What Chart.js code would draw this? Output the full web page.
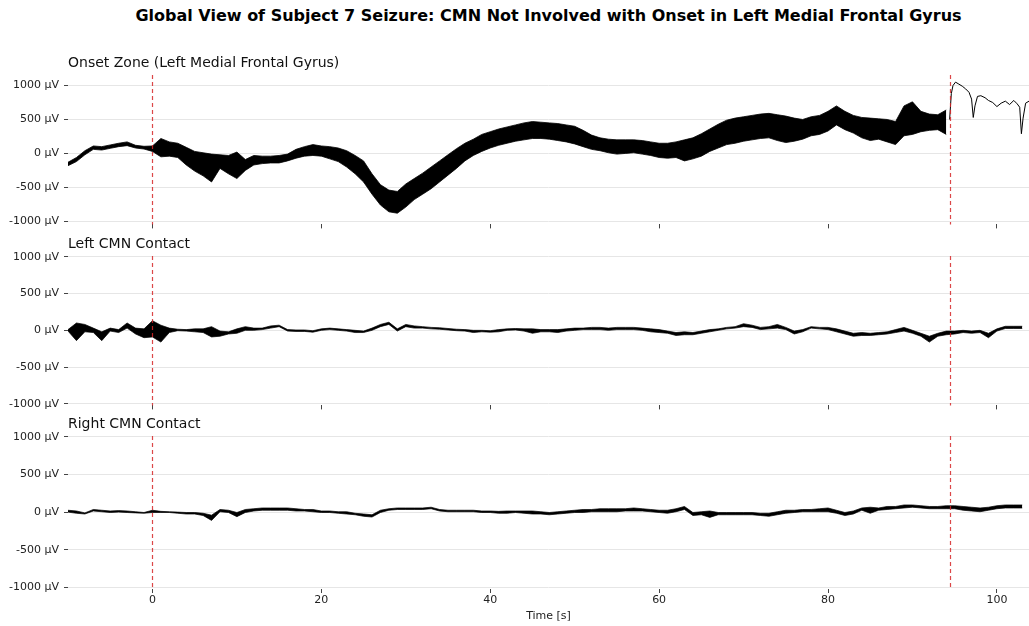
<!DOCTYPE html>
<html>
<head>
<meta charset="utf-8">
<script src="https://cdn.jsdelivr.net/npm/chart.js@4/dist/chart.umd.min.js"></script>
<style>
  body { margin:0; background:#fff; width:1029px; height:626px; position:relative; overflow:hidden; font-family:'DejaVu Sans', sans-serif; }
  #title { position:absolute; left:68px; width:961px; top:6px; text-align:center; font-weight:bold; font-size:16px; color:#000; }
  canvas { position:absolute; left:0; }
</style>
</head>
<body>
<div id="title">Global View of Subject 7 Seizure: CMN Not Involved with Onset in Left Medial Frontal Gyrus</div>
<canvas id="panel0" width="1029" height="186" style="top:50px"></canvas>
<canvas id="panel1" width="1029" height="185" style="top:232px"></canvas>
<canvas id="panel2" width="1029" height="214" style="top:412px"></canvas>
<script>
/* EEG overview — three stacked channels, envelope of the signal per second */

const panelTitles = ['Onset Zone (Left Medial Frontal Gyrus)', 'Left CMN Contact', 'Right CMN Contact'];
const xTickValues = [0, 20, 40, 60, 80, 100];
const yTickValues = [-1000, -500, 0, 500, 1000];
const onsetMarks = [0, 94.4];   // seizure onset / offset markers [s]

// sample times [s]
const secs = [-10,-9,-8,-7,-6,-5,-4,-3,-2,-1,0,1,2,3,4,5,6,7,8,9,10,11,12,13,14,15,16,17,18,19,
  20,21,22,23,24,25,26,27,28,29,30,31,32,33,34,35,36,37,38,39,40,41,42,43,44,45,46,47,48,49,
  50,51,52,53,54,55,56,57,58,59,60,61,62,63,64,65,66,67,68,69,70,71,72,73,74,75,76,77,78,79,
  80,81,82,83,84,85,86,87,88,89,90,91,92,93,94,95,96,97,98,99,100,101,102,103];

// Onset zone, -10..94 s (upper / lower edge of the trace, µV)
const onsetHi = [-130,-60,40,110,100,125,150,170,120,105,110,220,170,150,90,30,10,-10,-20,-30,
  20,-90,-30,-40,-40,-30,-10,60,100,130,110,100,80,40,-30,-110,-300,-460,-540,-560,
  -450,-370,-290,-200,-110,-20,70,150,210,280,320,360,390,420,450,470,460,450,440,420,
  400,340,270,230,210,200,200,200,190,170,150,150,170,200,230,290,360,430,490,520,
  540,560,580,590,570,550,520,500,540,560,620,700,620,560,530,520,510,500,470,700,
  760,620,580,570,640];
const onsetLo = [-180,-120,-20,60,50,75,100,115,80,65,30,-50,-40,-60,-170,-260,-330,-420,-220,-300,
  -370,-250,-170,-150,-140,-140,-110,-70,-40,-30,-40,-80,-120,-200,-300,-420,-600,-760,-860,-880,
  -790,-680,-600,-520,-420,-320,-220,-110,-30,30,80,120,150,180,200,220,220,210,190,170,
  140,100,60,40,10,-10,0,10,-10,-30,-60,-70,-60,-110,-80,-40,30,80,130,150,
  180,200,220,230,190,160,180,210,260,280,330,420,350,300,230,190,210,170,130,260,
  280,320,340,350,280];
// Onset zone after the marker (single thin trace)
const postSecs = [94.4,94.6,94.8,95.1,95.5,95.9,96.3,96.7,97.0,97.2,97.4,97.7,98.1,98.6,99.0,
  99.5,100.0,100.5,101.0,101.5,102.0,102.4,102.7,102.9,103.1,103.4,103.8];
const postUv = [500,880,1000,1050,1020,990,950,900,800,530,700,840,850,820,780,
  750,690,740,770,720,780,730,680,290,520,740,770];

// Left CMN contact, -10..103 s
const leftHi = [10,100,80,30,-20,30,10,100,30,20,130,70,30,15,10,20,20,50,-10,-20,
  20,50,30,30,60,70,10,5,5,-5,20,30,20,10,0,-10,30,80,110,20,
  80,60,50,40,35,25,15,10,0,0,-5,10,20,25,20,20,10,10,10,20,
  30,30,40,40,30,40,40,40,30,20,10,-10,-30,-20,-30,-10,10,20,40,50,
  90,70,40,50,80,40,-10,10,50,40,40,20,-10,-40,-30,-40,-30,-20,10,40,
  0,-40,-80,-40,-10,-10,0,-10,0,-40,20,55,55,55];
const leftLo = [-10,-140,-20,-30,-140,-10,-30,30,-50,-100,-90,-160,-30,-5,-10,-20,-30,-90,-80,-50,
  -40,0,0,10,30,50,-10,-15,-15,-25,0,10,0,-10,-30,-30,0,50,80,-10,
  50,30,30,20,15,5,-5,-10,-30,-20,-25,-20,0,5,-10,-40,-20,-20,-30,-10,
  0,10,10,10,0,10,10,10,0,-20,-30,-40,-70,-60,-60,-40,-20,0,20,30,
  50,40,10,20,30,10,-50,-20,30,20,10,-20,-50,-80,-70,-70,-60,-50,-30,-10,
  -40,-80,-160,-80,-60,-50,-30,-40,-30,-100,-10,25,25,25];

// Right CMN contact, -10..103 s
const rightHi = [25,15,-10,35,25,15,20,15,5,-5,25,10,5,0,-5,-5,-15,-40,35,25,
  -5,35,45,55,55,55,55,45,35,35,15,15,5,5,-15,-25,-35,25,45,55,
  55,55,55,65,35,25,25,25,25,15,15,10,15,15,15,15,5,-5,5,15,
  25,35,35,45,45,45,45,55,45,35,25,25,45,75,-5,5,15,-5,-5,-5,
  -5,-5,-15,-15,5,25,25,35,35,45,55,25,-5,15,55,65,55,75,75,95,
  95,85,75,75,85,85,75,65,55,65,85,95,95,95];
const rightLo = [0,-15,-25,15,5,-5,0,-5,-10,-15,-5,-5,-5,-15,-25,-25,-45,-110,5,-5,
  -60,-5,15,25,25,25,25,15,15,5,-5,-5,-15,-25,-35,-55,-65,-5,25,35,
  35,35,35,45,15,5,5,5,5,-5,-5,-15,-15,-5,-15,-25,-25,-35,-25,-15,
  -5,-5,5,5,5,5,15,15,15,5,-5,-15,5,35,-45,-35,-70,-35,-35,-35,
  -35,-35,-45,-55,-35,-15,-5,5,5,5,5,-15,-45,-25,25,-15,25,35,45,55,
  65,55,45,45,45,45,25,15,5,25,45,55,55,55];

const STYLE = {
  font: "'DejaVu Sans', sans-serif",
  text: '#222',
  grid: '#e6e6e6',
  tick: '#444',
  trace: '#000',
  marker: 'rgba(214,39,40,0.85)',
};

const pts = (xs, ys) => ys.map((y, i) => ({ x: xs[i], y }));

function bandSets(xs, hi, lo, width = 0.8) {
  return [
    { data: pts(xs, hi), borderColor: STYLE.trace, borderWidth: width, pointRadius: 0, fill: false },
    { data: pts(xs, lo), borderColor: STYLE.trace, borderWidth: width, pointRadius: 0, fill: '-1', backgroundColor: STYLE.trace },
  ];
}

// red dashed onset lines + panel label
const panelDecor = {
  id: 'panelDecor',
  afterDatasetsDraw(chart, args, opts) {
    const { ctx, chartArea: a, scales: { x } } = chart;
    ctx.save();
    ctx.strokeStyle = STYLE.marker; ctx.lineWidth = 1.2; ctx.setLineDash([4, 3]);
    onsetMarks.forEach(v => {
      const px = Math.round(x.getPixelForValue(v)) + 0.5;
      ctx.beginPath(); ctx.moveTo(px, a.top); ctx.lineTo(px, a.bottom); ctx.stroke();
    });
    ctx.setLineDash([]);
    ctx.fillStyle = '#111'; ctx.font = `14px ${STYLE.font}`;
    ctx.textAlign = 'left'; ctx.textBaseline = 'middle';
    ctx.fillText(opts.label, a.left, a.top - 12);
    ctx.restore();
  }
};

function eegPanel(canvasId, label, datasets, yMin, yMax, padTop, bottomAxis) {
  const ctx = document.getElementById(canvasId);
  return new Chart(ctx, {
    type: 'line',
    data: { datasets },
    options: {
      responsive: false, animation: false,
      layout: { padding: { top: padTop, left: 0, right: 0, bottom: 0 } },
      plugins: { legend: { display: false }, tooltip: { enabled: false }, panelDecor: { label } },
      scales: {
        x: {
          type: 'linear', min: -10, max: 103.8,
          afterBuildTicks: s => { s.ticks = xTickValues.map(value => ({ value })); },
          afterFit: s => { s.height = bottomAxis ? 37 : 8; },
          border: { display: false },
          grid: { drawOnChartArea: false, drawTicks: true, tickLength: 4, tickColor: STYLE.tick },
          ticks: { display: bottomAxis, color: STYLE.text, padding: 1, maxRotation: 0, font: { family: STYLE.font, size: 11 } },
          title: { display: bottomAxis, text: 'Time [s]', color: STYLE.text, padding: { top: 0, bottom: 3 }, font: { family: STYLE.font, size: 11 } },
        },
        y: {
          min: yMin, max: yMax,
          afterBuildTicks: s => { s.ticks = yTickValues.map(value => ({ value })); },
          afterFit: s => { s.width = 68; },
          border: { display: false },
          grid: { color: STYLE.grid, lineWidth: 1, tickLength: 4, tickColor: STYLE.tick },
          ticks: { color: STYLE.text, padding: 5, font: { family: STYLE.font, size: 11 }, callback: v => `${v} µV` },
        },
      },
    },
    plugins: [panelDecor],
  });
}

eegPanel('panel0', panelTitles[0], [
  ...bandSets(secs.slice(0, onsetHi.length), onsetHi, onsetLo),
  { data: pts(postSecs, postUv), borderColor: STYLE.trace, borderWidth: 1, pointRadius: 0, fill: false },
], -1045, 1155, 25, false);

eegPanel('panel1', panelTitles[1], bandSets(secs, leftHi, leftLo, 0.7), -1020, 1010, 24, false);
eegPanel('panel2', panelTitles[2], bandSets(secs, rightHi, rightLo, 0.7), -1020, 1010, 24, true);
</script>
</body>
</html>
